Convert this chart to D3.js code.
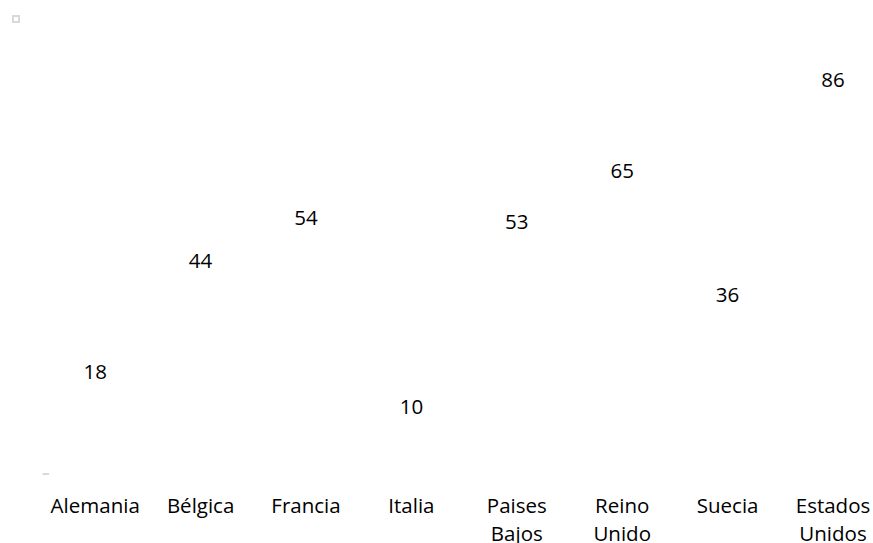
<!DOCTYPE html>
<html>
<head>
<meta charset="utf-8">
<script src="https://cdn.jsdelivr.net/npm/d3@7"></script>
<style>
  body { margin: 0; background: #fff; }
  svg { display: block; }
</style>
</head>
<body>
<script>
var w = 873;
var h = 543;

// categories and values
var paises = ["Alemania", "Bélgica", "Francia", "Italia", "Paises Bajos", "Reino Unido", "Suecia", "Estados Unidos"];
var valores = [18, 44, 54, 10, 53, 65, 36, 86];
var etiquetas = [["Alemania"], ["Bélgica"], ["Francia"], ["Italia"], ["Paises", "Bajos"], ["Reino", "Unido"], ["Suecia"], ["Estados", "Unidos"]];

var fuente = "'Open Sans', sans-serif";

var svg = d3.select("body").append("svg")
  .attr("width", w)
  .attr("height", h);

var x = d3.scaleBand()
  .domain(paises)
  .range([42.5, 885.7])
  .paddingInner(0.3)
  .paddingOuter(0.15);

var y = d3.scaleLinear()
  .domain([0, 100])
  .range([474, 44.4]);

// small legend box top-left
svg.append("rect")
  .attr("x", 13)
  .attr("y", 16)
  .attr("width", 6)
  .attr("height", 6)
  .attr("fill", "none")
  .attr("stroke", "#d9d9d9")
  .attr("stroke-width", 2);

// bars (white, invisible like in the original)
svg.selectAll("rect.bar")
  .data(valores)
  .enter()
  .append("rect")
  .attr("class", "bar")
  .attr("x", function(d, i){ return x(paises[i]); })
  .attr("y", function(d){ return y(d); })
  .attr("width", x.bandwidth())
  .attr("height", function(d){ return y(0) - y(d); })
  .attr("fill", "#ffffff");

// little bit of axis line visible at the start
svg.append("line")
  .attr("x1", x.range()[0])
  .attr("x2", x.range()[0] + 6.5)
  .attr("y1", y(0))
  .attr("y2", y(0))
  .attr("stroke", "#d9d9d9")
  .attr("stroke-width", 2);

// data labels
svg.selectAll("text.valor")
  .data(valores)
  .enter()
  .append("text")
  .attr("class", "valor")
  .text(function(d){ return d; })
  .attr("x", function(d, i){ return x(paises[i]) + x.bandwidth() / 2; })
  .attr("y", function(d){ return y(d) - 24.5 + 7.3; })
  .attr("font-size", "20.5px")
  .attr("font-family", fuente)
  .attr("fill", "#000")
  .attr("text-anchor", "middle");

// category axis
var eje = svg.append("g")
  .attr("transform", "translate(0," + y(0) + ")")
  .call(d3.axisBottom(x).tickSize(0).tickFormat(""));

eje.select(".domain").remove();

eje.selectAll(".tick text").remove();
eje.selectAll(".tick")
  .append("text")
  .attr("font-size", "20.5px")
  .attr("font-family", fuente)
  .attr("fill", "#000")
  .attr("text-anchor", "middle")
  .selectAll("tspan")
  .data(function(d){ return etiquetas[paises.indexOf(d)]; })
  .enter()
  .append("tspan")
  .attr("x", 0)
  .attr("y", function(d, i){ return 39.3 + i * 27.5; })
  .text(function(d){ return d; });
</script>
</body>
</html>
